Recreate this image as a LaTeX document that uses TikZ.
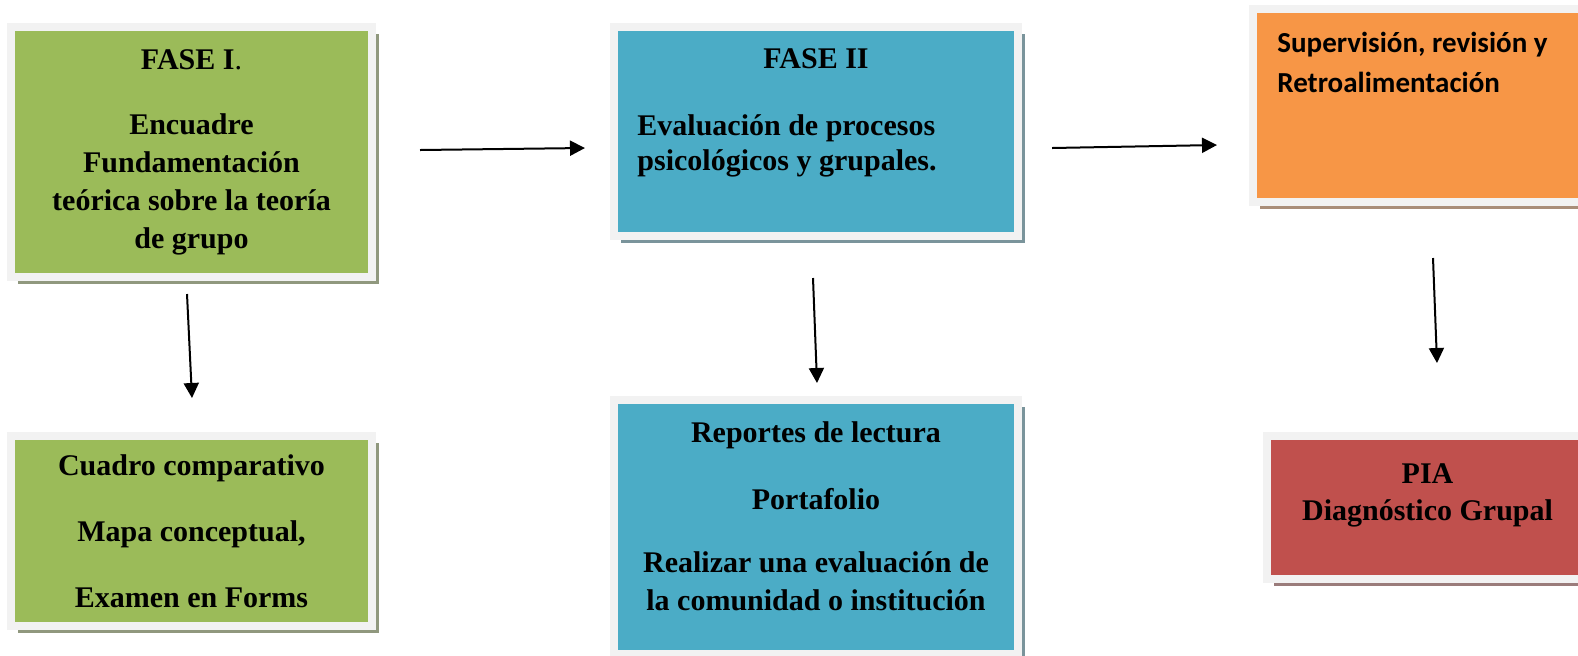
\documentclass[tikz,border=0pt]{standalone}
\usepackage{fontspec}
\setmainfont{Liberation Serif}
\newfontfamily\calibri{Carlito}
\usepackage{xcolor}
\usepackage{tikz}
\usetikzlibrary{shadows,arrows.meta}

\definecolor{verde}{HTML}{9BBB59}
\definecolor{azul}{HTML}{4BACC6}
\definecolor{naranja}{HTML}{F79646}
\definecolor{rojo}{HTML}{C0504D}
\definecolor{marco}{HTML}{F2F2F2}

\tikzset{
	caja/.style={fill=#1, draw=marco, line width=4pt, inner sep=0pt,
		drop shadow={shadow xshift=3.5pt, shadow yshift=-3.5pt, fill=#1!45!black!60, opacity=1}},
	texto/.style={font=\bfseries\fontsize{15}{19}\selectfont, inner sep=0pt, anchor=base, align=center},
	flecha/.style={-{Triangle[length=7.5pt,width=7.5pt]}, line width=1pt}
}

\begin{document}
\begin{tikzpicture}[x=0.5pt,y=-0.5pt]
				\useasboundingbox (0,0) rectangle (1578,655);

				\draw (191.5,152) node[caja=verde, minimum width=180.5pt, minimum height=125pt] (fase1) {};
				\draw (816,131.5) node[caja=azul, minimum width=202pt, minimum height=104.5pt] (fase2) {};
				\draw (1455,105.5) node[caja=naranja, minimum width=202pt, minimum height=96.5pt] (super) {};
				\draw (191.5,531) node[caja=verde, minimum width=180.5pt, minimum height=95pt] (prod1) {};
				\draw (816,527) node[caja=azul, minimum width=202pt, minimum height=127pt] (prod2) {};
				\draw (1443.5,507.5) node[caja=rojo, minimum width=176.5pt, minimum height=71.5pt] (pia) {};

				\draw (191.5,248) node[texto] (txtfase1) {FASE I\textmd{.}\\[13.5pt]
					Encuadre\\Fundamentación\\teórica sobre la teoría\\de grupo};
				\draw (816,68) node[texto] (titfase2) {FASE II};
				\draw (637,170) node[texto, anchor=base west, align=left, font=\bfseries\fontsize{15}{17.5}\selectfont] (txtfase2) {Evaluación de procesos\\psicológicos y grupales.};
				\draw (1277,92) node[texto, anchor=base west, align=left, font=\calibri\bfseries\fontsize{14.5}{20}\selectfont] (txtsuper) {Supervisión, revisión y\\Retroalimentación};
				\draw (191.5,607) node[texto] (txtprod1) {Cuadro comparativo\\[14pt]
					Mapa conceptual,\\[14pt]Examen en Forms};
				\draw (816,610) node[texto] (txtprod2) {Reportes de lectura\\[14.5pt]
					Portafolio\\[12.5pt]Realizar una evaluación de\\la comunidad o institución};
				\draw (1427.5,520) node[texto, font=\bfseries\fontsize{15}{18.5}\selectfont] (txtpia) {PIA\\Diagnóstico Grupal};

				\coordinate (a1) at (420,150);
				\coordinate (b1) at (585,148);
				\coordinate (a2) at (1052,148);
				\coordinate (b2) at (1217,145);
				\coordinate (c1) at (187,294);
				\coordinate (d1) at (192,398);
				\coordinate (c2) at (813,278);
				\coordinate (d2) at (817,383);
				\coordinate (c3) at (1433,258);
				\coordinate (d3) at (1437,363);

				\draw[flecha] (a1) -- (b1);
				\draw[flecha] (a2) -- (b2);
				\draw[flecha] (c1) -- (d1);
				\draw[flecha] (c2) -- (d2);
				\draw[flecha] (c3) -- (d3);
		\end{tikzpicture}
\end{document}
